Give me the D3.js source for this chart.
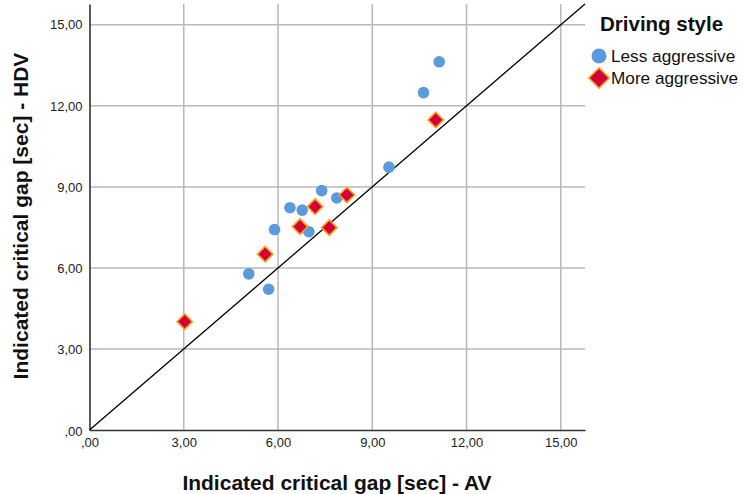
<!DOCTYPE html>
<html>
<head>
<meta charset="utf-8">
<script src="https://cdn.jsdelivr.net/npm/d3@7"></script>
<style>
  html, body { margin: 0; padding: 0; background: #fff; }
  svg { display: block; font-family: "Liberation Sans", Arial, sans-serif; }
</style>
</head>
<body>
<svg id="chart" width="743" height="494"></svg>
<script>
// Indicated critical gap (seconds): AV vs HDV, split by driving style
const lessAV  = [5.07, 5.70, 5.89, 6.38, 6.77, 6.98, 7.39, 7.87, 9.53, 10.63, 11.13];
const lessHDV = [5.78, 5.21, 7.42, 8.23, 8.14, 7.34, 8.86, 8.59, 9.73, 12.49, 13.63];
const moreAV  = [3.03, 5.59, 6.70, 7.18, 7.63, 8.19, 11.02];
const moreHDV = [4.01, 6.51, 7.53, 8.27, 7.49, 8.70, 11.48];
const tickValues = [0, 3, 6, 9, 12, 15];
const styleNames = ["Less aggressive", "More aggressive"];

const svg = d3.select("#chart");
const plotLeft = 89.5, plotRight = 585, plotTop = 4, plotBottom = 430;
const domainMax = 15.77;

const x = d3.scaleLinear().domain([0, domainMax]).range([plotLeft, plotRight]);
const y = d3.scaleLinear().domain([0, domainMax]).range([plotBottom, plotTop]);

const fmt = v => v === 0 ? ",00" : d3.format(".2f")(v).replace(".", ",");

// Grid lines
svg.append("g").selectAll("line").data(tickValues.filter(d => d > 0)).join("line")
  .attr("x1", d => x(d)).attr("x2", d => x(d))
  .attr("y1", plotTop).attr("y2", plotBottom)
  .attr("stroke", "#b9b9b9").attr("stroke-width", 1.5);
svg.append("g").selectAll("line").data(tickValues.filter(d => d > 0)).join("line")
  .attr("x1", plotLeft).attr("x2", plotRight)
  .attr("y1", d => y(d)).attr("y2", d => y(d))
  .attr("stroke", "#b9b9b9").attr("stroke-width", 1.5);

// Axes (lines + labels, no tick marks)
const xAxis = svg.append("g").attr("transform", `translate(0,${plotBottom})`)
  .call(d3.axisBottom(x).tickValues(tickValues).tickFormat(fmt).tickSize(0).tickPadding(8));
const yAxis = svg.append("g").attr("transform", `translate(${plotLeft},0)`)
  .call(d3.axisLeft(y).tickValues(tickValues).tickFormat(fmt).tickSize(0).tickPadding(7));
[xAxis, yAxis].forEach(g => {
  g.select(".domain").attr("stroke", "#333").attr("stroke-width", 1.6);
  g.selectAll("text").attr("font-size", 13).attr("fill", "#222")
    .attr("font-family", "'Liberation Sans', Arial, sans-serif");
});
yAxis.selectAll(".tick").filter(d => d === 0).select("text").attr("dy", "0.45em");

// Reference line y = x
svg.append("line")
  .attr("x1", x(0)).attr("y1", y(0))
  .attr("x2", x(domainMax)).attr("y2", y(domainMax))
  .attr("stroke", "#000").attr("stroke-width", 1.3);

// Points
const lessData = lessAV.map((v, i) => ({ av: v, hdv: lessHDV[i] }));
const moreData = moreAV.map((v, i) => ({ av: v, hdv: moreHDV[i] }));

svg.append("g").selectAll("circle").data(lessData).join("circle")
  .attr("cx", d => x(d.av)).attr("cy", d => y(d.hdv)).attr("r", 5.8)
  .attr("fill", "#5a9ade");

const diamond = d3.symbol().type(d3.symbolDiamond2).size(150);
svg.append("g").selectAll("path").data(moreData).join("path")
  .attr("d", diamond)
  .attr("transform", d => `translate(${x(d.av)},${y(d.hdv)})`)
  .attr("fill", "#d2003a").attr("stroke", "#ff9a1a").attr("stroke-width", 1.6);

// Axis titles
svg.append("text")
  .attr("x", 337).attr("y", 490)
  .attr("text-anchor", "middle").attr("font-size", 21).attr("font-weight", "bold")
  .attr("fill", "#111")
  .text("Indicated critical gap [sec] - AV");
svg.append("text")
  .attr("transform", "translate(28,216) rotate(-90)")
  .attr("text-anchor", "middle").attr("font-size", 21).attr("font-weight", "bold")
  .attr("fill", "#111")
  .text("Indicated critical gap [sec] - HDV");

// Legend
const legend = svg.append("g");
legend.append("text").attr("x", 600).attr("y", 31)
  .attr("font-size", 20.5).attr("font-weight", "bold").attr("fill", "#111")
  .text("Driving style");
legend.append("circle").attr("cx", 599).attr("cy", 56).attr("r", 7.5).attr("fill", "#5a9ade");
legend.append("path").attr("d", d3.symbol().type(d3.symbolDiamond2).size(260))
  .attr("transform", "translate(599,78)")
  .attr("fill", "#d2003a").attr("stroke", "#ff9a1a").attr("stroke-width", 1.6);
legend.selectAll("text.item").data(styleNames).join("text")
  .attr("class", "item")
  .attr("x", 611).attr("y", (d, i) => 62 + i * 22)
  .attr("font-size", 17.2).attr("fill", "#111")
  .text(d => d);
</script>
</body>
</html>
